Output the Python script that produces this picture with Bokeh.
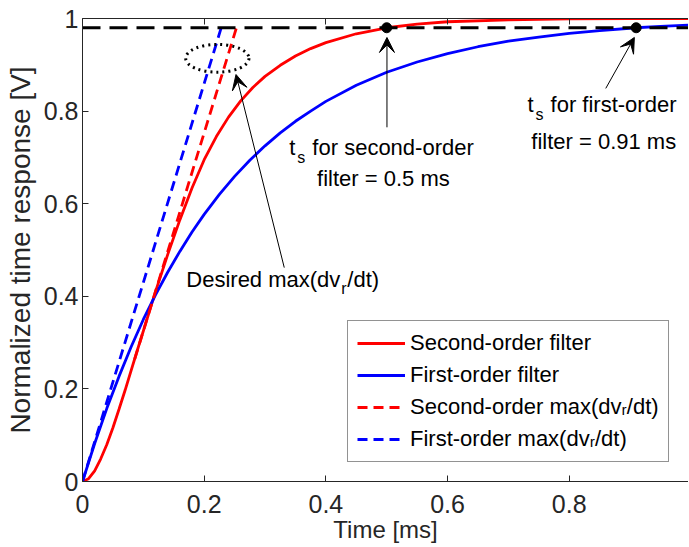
from bokeh.plotting import figure
from bokeh.models import (Range1d, FixedTicker, LinearAxis, Legend, LegendItem,
                          Arrow, VeeHead, CustomJSTickFormatter, ColumnDataSource)
from bokeh.core.properties import value
from bokeh.embed import file_html
from bokeh.resources import INLINE

# ---------------- data ----------------
t_second = [0, 0.01, 0.02, 0.03, 0.04, 0.05, 0.06, 0.07, 0.08, 0.09, 0.10, 0.12, 0.14,
            0.16, 0.18, 0.20, 0.22, 0.24, 0.26, 0.28, 0.30, 0.325, 0.35, 0.375, 0.40,
            0.45, 0.50, 0.55, 0.60, 0.70, 0.80, 0.90, 1.00]
v_second = [0, 0.006, 0.023, 0.049, 0.080, 0.116, 0.156, 0.197, 0.240, 0.283, 0.325,
            0.410, 0.490, 0.565, 0.634, 0.695, 0.745, 0.787, 0.822, 0.851, 0.875,
            0.899, 0.919, 0.935, 0.948, 0.967, 0.980, 0.988, 0.993, 0.997, 0.999,
            1.0, 1.0]

t_first = [0, 0.02, 0.04, 0.06, 0.08, 0.10, 0.12, 0.14, 0.16, 0.18, 0.20, 0.225, 0.25,
           0.275, 0.30, 0.325, 0.35, 0.375, 0.40, 0.45, 0.50, 0.55, 0.60, 0.65, 0.70,
           0.75, 0.80, 0.85, 0.91, 0.95, 1.00]
v_first = [0, 0.082, 0.158, 0.227, 0.291, 0.350, 0.403, 0.452, 0.497, 0.539, 0.577,
           0.620, 0.659, 0.694, 0.725, 0.753, 0.778, 0.800, 0.821, 0.856, 0.884,
           0.906, 0.924, 0.939, 0.951, 0.960, 0.968, 0.974, 0.980, 0.983, 0.986]

t_slope_second = [0.0857, 0.253]
v_slope_second = [0.264, 0.98]
t_slope_first = [0, 0.228]
v_slope_first = [0, 0.98]

threshold_t = [0, 1]
threshold_v = [0.98, 0.98]
t_settle = [0.5, 0.91]
v_settle = [0.98, 0.98]

x_ticks = [0, 0.2, 0.4, 0.6, 0.8, 1]
y_ticks = [0, 0.2, 0.4, 0.6, 0.8, 1]

legend_labels = ["Second-order filter", "First-order filter",
                 "Second-order max(dv\u1d63/dt)", "First-order max(dv\u1d63/dt)"]

# ---------------- figure ----------------
FONT = "Liberation Sans"
AX = "#262626"

p = figure(width=688, height=546, output_backend="svg", toolbar_location=None,
           x_range=Range1d(0, 0.996), y_range=Range1d(0, 1),
           min_border_left=82, min_border_right=0, min_border_top=18, min_border_bottom=65)
p.outline_line_color = None
p.xgrid.visible = False
p.ygrid.visible = False
p.background_fill_color = "white"
p.border_fill_color = "white"

fmt = CustomJSTickFormatter(code="return String(Math.round(tick*10)/10);")
for ax, ticks in ((p.xaxis[0], x_ticks), (p.yaxis[0], y_ticks)):
    ax.ticker = FixedTicker(ticks=ticks)
    ax.formatter = fmt
    ax.major_tick_in = 6
    ax.major_tick_out = 0
    ax.minor_tick_in = 0
    ax.minor_tick_out = 0
    ax.axis_line_color = AX
    ax.major_tick_line_color = AX
    ax.major_label_text_color = AX
    ax.major_label_text_font = FONT
    ax.major_label_text_font_size = "25px"
    ax.axis_label_text_font = FONT
    ax.axis_label_text_font_style = "normal"
    ax.axis_label_text_color = AX

p.xaxis[0].axis_label = "Time [ms]"
p.xaxis[0].axis_label_text_font_size = "24px"
p.xaxis[0].major_label_standoff = 13
p.xaxis[0].axis_label_standoff = 0
p.yaxis[0].axis_label = "Normalized time response [V]"
p.yaxis[0].axis_label_text_font_size = "28px"
p.yaxis[0].major_label_standoff = 4
p.yaxis[0].axis_label_standoff = 5

# top box edge with inward ticks (no labels)
top = LinearAxis(ticker=FixedTicker(ticks=x_ticks),
                 formatter=CustomJSTickFormatter(code="return '';"),
                 major_label_text_font_size="1px",
                 major_label_standoff=0, major_tick_in=6, major_tick_out=0,
                 minor_tick_in=0, minor_tick_out=0, axis_line_color=AX,
                 major_tick_line_color=AX)
p.add_layout(top, "above")

# ---------------- glyphs ----------------
r_sec = p.line(t_second, v_second, line_color="#ff0000", line_width=2.8)
r_fir = p.line(t_first, v_first, line_color="#0000ff", line_width=2.8)
r_sec_d = p.line(t_slope_second, v_slope_second, line_color="#ff0000", line_width=2.8,
                 line_dash="10 6")
r_fir_d = p.line(t_slope_first, v_slope_first, line_color="#0000ff", line_width=2.8,
                 line_dash="10 6")
p.line(threshold_t, threshold_v, line_color="black", line_width=3, line_dash="18 9")
p.scatter(t_settle, v_settle, size=10, color="black")

# dotted ellipse marking desired slope
p.ellipse(x=[0.2216], y=[0.914], width=[0.104], height=[0.06], fill_color=None,
          line_color="black", line_width=3, line_dash="2 4")

# arrows
arrows = [
    (0.3316, 0.462, 0.2523, 0.879),
    (0.5004, 0.765, 0.5004, 0.959),
    (0.860, 0.849, 0.907, 0.959),
]
for xs, ys, xe, ye in arrows:
    p.add_layout(Arrow(end=VeeHead(size=15, fill_color="black", line_color="black",
                                   line_width=1),
                       x_start=xs, y_start=ys, x_end=xe, y_end=ye,
                       line_color="black", line_width=1))

# annotation texts (main size) and subscripts (smaller)
main_txt = ColumnDataSource(dict(
    text=["Desired max(dv", "/dt)", "t", "for second-order", "filter = 0.5 ms",
          "t", "for first-order", "filter = 0.91 ms"],
    x=[0.1706, 0.1706, 0.340, 0.340, 0.4946, 0.7315, 0.7315, 0.8567],
    y=[0.4368, 0.4368, 0.7205, 0.7205, 0.654, 0.8145, 0.8145, 0.7334],
    xo=[0, 161, 0, 23, 0, 0, 23, 0],
    align=["left", "left", "left", "left", "center", "left", "left", "center"],
))
p.text(x="x", y="y", text="text", x_offset="xo", text_align="align",
       text_baseline="middle", text_font_size="22px",
       text_font=value(FONT), text_color="black", source=main_txt)

sub_txt = ColumnDataSource(dict(
    text=["r", "s", "s"],
    x=[0.1706, 0.340, 0.7315],
    y=[0.4368, 0.7205, 0.8145],
    xo=[155, 8, 8],
    yo=[9, 10, 10],
))
p.text(x="x", y="y", text="text", x_offset="xo", y_offset="yo", text_align="left",
       text_baseline="middle", text_font_size="16px",
       text_font=value(FONT), text_color="black", source=sub_txt)

# legend
legend = Legend(items=[LegendItem(label=legend_labels[0], renderers=[r_sec]),
                       LegendItem(label=legend_labels[1], renderers=[r_fir]),
                       LegendItem(label=legend_labels[2], renderers=[r_sec_d]),
                       LegendItem(label=legend_labels[3], renderers=[r_fir_d])],
                location=(265, 19), label_text_font=FONT, label_text_font_size="22px",
                label_text_color="black", glyph_width=48, glyph_height=26,
                label_height=26, spacing=6, padding=9, margin=0, label_standoff=5,
                border_line_color=AX, border_line_width=1, background_fill_color="white",
                background_fill_alpha=1)
p.add_layout(legend)

open("out.html", "w").write(file_html(p, INLINE))
